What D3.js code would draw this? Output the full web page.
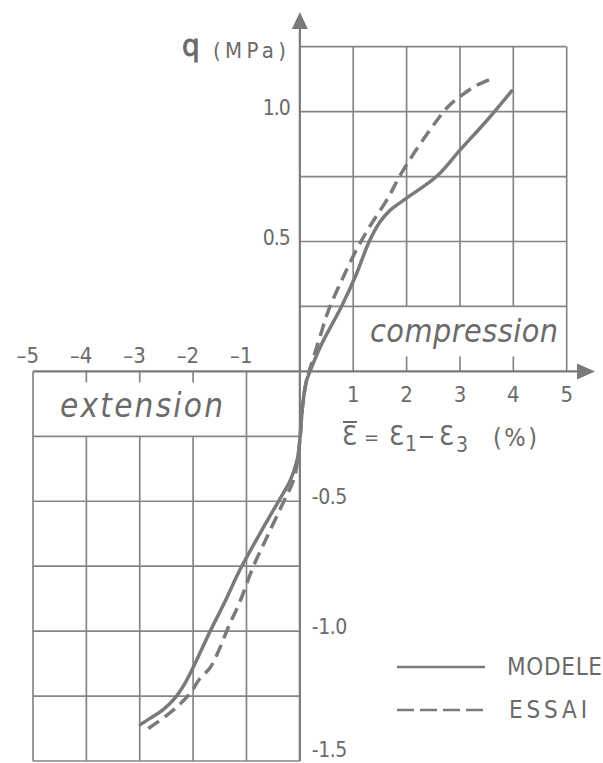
<!DOCTYPE html>
<html>
<head>
	<meta charset="utf-8">
	<script src="https://d3js.org/d3.v7.min.js"></script>
	<style>
		body { margin: 0; background: #fff; }
		svg { display: block; }
		text { font-family: "DejaVu Sans Condensed", "DejaVu Sans", sans-serif; fill: #6a6a6a; }
	</style>
</head>
<body>
<script type="text/javascript">
	"use strict";

	/*
	Values: strain eps (%) and deviator q (MPa)
	*/
	var modeleX = [-2.99, -2.80, -2.55, -2.35, -2.15, -2.00, -1.85, -1.68, -1.40, -1.15, -0.90, -0.68, -0.40, -0.18, -0.05,
		0.01, 0.05, 0.12, 0.19, 0.42, 0.78, 1.05, 1.30, 1.50, 1.69, 2.00, 2.56, 3.00, 3.50, 3.97];
	var modeleQ = [-1.36, -1.335, -1.30, -1.26, -1.20, -1.14, -1.075, -1.00, -0.885, -0.775, -0.68, -0.60, -0.50, -0.42, -0.34,
		-0.24, -0.135, -0.04, 0.00, 0.11, 0.25, 0.37, 0.50, 0.575, 0.62, 0.667, 0.75, 0.852, 0.965, 1.08];

	var essaiX = [-2.84, -2.50, -2.24, -2.02, -1.90, -1.68, -1.52, -1.34, -1.12, -0.87, -0.62, -0.30, -0.12, -0.04,
		0.01, 0.05, 0.12, 0.22, 0.38, 0.54, 0.79, 1.06, 1.31, 1.63, 1.94, 2.44, 2.78, 3.00, 3.30, 3.62];
	var essaiQ = [-1.375, -1.325, -1.28, -1.23, -1.19, -1.14, -1.075, -0.985, -0.885, -0.75, -0.64, -0.50, -0.42, -0.34,
		-0.24, -0.135, -0.04, 0.03, 0.135, 0.237, 0.353, 0.468, 0.558, 0.66, 0.776, 0.93, 1.02, 1.058, 1.10, 1.128];

	var xTicksNeg = [-5, -4, -3, -2, -1];
	var xTicksPos = [1, 2, 3, 4, 5];
	var qTicksPos = [0.5, 1.0];
	var qTicksNeg = [-0.5, -1.0, -1.5];
	var qGridPos = [0.25, 0.5, 0.75, 1.0, 1.25];
	var qGridNeg = [-0.25, -0.5, -0.75, -1.0, -1.25, -1.5];
	var seriesNames = ["MODELE", "ESSAI"];

	var width = 603,
		height = 763,
		ink = "#7a7a7a",
		gridInk = "#858585";

	var svg = d3.select("body")
		.append("svg")
		.attr("width", width)
		.attr("height", height);

	var x = d3.scaleLinear().domain([-5, 5]).range([33, 566.7]);
	var y = d3.scaleLinear().domain([-1.5, 1.25]).range([761, 46.7]);

	var grid = svg.append("g")
		.attr("stroke", gridInk)
		.attr("stroke-width", 1.7)
		.attr("fill", "none");

	//compression quadrant
	grid.selectAll("line.hpos")
		.data(qGridPos)
		.enter()
		.append("line")
			.attr("x1", x(0)).attr("x2", x(5))
			.attr("y1", function (d) { return y(d); })
			.attr("y2", function (d) { return y(d); });
	grid.selectAll("line.vpos")
		.data(xTicksPos)
		.enter()
		.append("line")
			.attr("x1", function (d) { return x(d); })
			.attr("x2", function (d) { return x(d); })
			.attr("y1", y(1.25))
			.attr("y2", function (d) { return (d === 1 || d === 5) ? y(0) : y(0.25); });
	grid.selectAll("line.tpos")
		.data([2, 3, 4])
		.enter()
		.append("line")
			.attr("x1", function (d) { return x(d); })
			.attr("x2", function (d) { return x(d); })
			.attr("y1", y(0))
			.attr("y2", y(0) - 15);

	//extension quadrant
	grid.selectAll("line.hneg")
		.data(qGridNeg)
		.enter()
		.append("line")
			.attr("x1", x(-5)).attr("x2", x(0))
			.attr("y1", function (d) { return y(d); })
			.attr("y2", function (d) { return y(d); });
	grid.selectAll("line.vneg")
		.data(xTicksNeg)
		.enter()
		.append("line")
			.attr("x1", function (d) { return x(d); })
			.attr("x2", function (d) { return x(d); })
			.attr("y1", function (d) { return (d === -5 || d === -1) ? y(0) : y(-0.25); })
			.attr("y2", y(-1.5));
	grid.selectAll("line.tneg")
		.data([-4, -3, -2])
		.enter()
		.append("line")
			.attr("x1", function (d) { return x(d); })
			.attr("x2", function (d) { return x(d); })
			.attr("y1", y(0))
			.attr("y2", y(0) + 11);

	//axes with arrows
	svg.append("line")
		.attr("x1", x(-5)).attr("x2", 585)
		.attr("y1", y(0)).attr("y2", y(0))
		.attr("stroke", ink).attr("stroke-width", 2.2);
	svg.append("line")
		.attr("x1", x(0)).attr("x2", x(0))
		.attr("y1", y(-1.5)).attr("y2", 20)
		.attr("stroke", ink).attr("stroke-width", 2.2);
	svg.append("path")
		.attr("d", "M" + 595 + "," + y(0) + "L" + 577 + "," + (y(0) - 8) + "L" + 577 + "," + (y(0) + 8) + "Z")
		.attr("fill", ink);
	svg.append("path")
		.attr("d", "M" + x(0) + ",12L" + (x(0) - 8) + ",29L" + (x(0) + 8) + ",29Z")
		.attr("fill", ink);

	//tick labels
	var fmt = d3.format(".1f");
	svg.selectAll("text.xneg")
		.data(xTicksNeg)
		.enter()
		.append("text")
			.attr("x", function (d) { return x(d) + 6; })
			.attr("y", y(0) - 8)
			.attr("text-anchor", "end")
			.style("font-size", "22px")
			.text(function (d) { return "\u2013" + Math.abs(d); });
	svg.selectAll("text.xpos")
		.data(xTicksPos)
		.enter()
		.append("text")
			.attr("x", function (d) { return x(d); })
			.attr("y", y(0) + 31)
			.attr("text-anchor", "middle")
			.style("font-size", "22px")
			.text(function (d) { return d; });
	svg.selectAll("text.qpos")
		.data(qTicksPos)
		.enter()
		.append("text")
			.attr("x", x(0) - 10)
			.attr("y", function (d) { return y(d) + 3; })
			.attr("text-anchor", "end")
			.style("font-size", "21px")
			.style("letter-spacing", "-1px")
			.text(function (d) { return fmt(d); });
	svg.selectAll("text.qneg")
		.data(qTicksNeg)
		.enter()
		.append("text")
			.attr("x", x(0) + 12)
			.attr("y", function (d) { return Math.min(y(d) + 3, 757); })
			.style("font-size", "21px")
			.style("letter-spacing", "-0.5px")
			.text(function (d) { return "-" + fmt(Math.abs(d)); });

	//quadrant names
	svg.append("text")
		.attr("x", 370).attr("y", 342)
		.attr("textLength", 188)
		.style("font-size", "32px")
		.style("font-style", "italic")
		.text("compression");
	svg.append("text")
		.attr("x", 60).attr("y", 417)
		.attr("textLength", 163)
		.style("font-size", "33px")
		.style("font-style", "italic")
		.text("extension");

	//axis titles
	svg.append("text")
		.attr("x", 182).attr("y", 56)
		.attr("stroke", "#6a6a6a")
		.attr("stroke-width", 0.8)
		.style("font-size", "31px")
		.text("q");
	svg.append("text")
		.attr("x", 213).attr("y", 58)
		.attr("textLength", 73)
		.style("font-size", "22px")
		.text("(MPa)");

	var xt = svg.append("g").style("font-size", "27px");
	xt.append("text").attr("x", 342).attr("y", 445).text("\u0190");
	xt.append("line")
		.attr("x1", 343).attr("x2", 357).attr("y1", 422).attr("y2", 422)
		.attr("stroke", "#6a6a6a").attr("stroke-width", 2);
	xt.append("text").attr("x", 364).attr("y", 444).style("font-size", "20px").text("=");
	xt.append("text").attr("x", 389).attr("y", 445).text("\u0190");
	xt.append("text").attr("x", 405).attr("y", 451).style("font-size", "21px").text("1");
	xt.append("line")
		.attr("x1", 420).attr("x2", 433).attr("y1", 437).attr("y2", 437)
		.attr("stroke", "#6a6a6a").attr("stroke-width", 2);
	xt.append("text").attr("x", 439).attr("y", 445).text("\u0190");
	xt.append("text").attr("x", 456).attr("y", 452).style("font-size", "21px").text("3");
	xt.append("text").attr("x", 493).attr("y", 446).attr("textLength", 44)
		.style("font-size", "25px").text("(%)");

	//curves
	var line = d3.line()
		.x(function (d) { return x(d[0]); })
		.y(function (d) { return y(d[1]); })
		.curve(d3.curveCatmullRom.alpha(0.5));

	svg.append("path")
		.datum(d3.zip(modeleX, modeleQ))
		.attr("d", line)
		.attr("fill", "none")
		.attr("stroke", ink)
		.attr("stroke-width", 3.5)
		.attr("stroke-linecap", "round");
	svg.append("path")
		.datum(d3.zip(essaiX, essaiQ))
		.attr("d", line)
		.attr("fill", "none")
		.attr("stroke", ink)
		.attr("stroke-width", 3.5)
		.attr("stroke-dasharray", "13,7");

	//legend
	var legend = svg.selectAll("g.legend")
		.data(seriesNames)
		.enter()
		.append("g")
			.attr("transform", function (d, i) { return "translate(0," + (667 + i * 43) + ")"; });
	legend.append("line")
		.attr("x1", 397).attr("x2", 485)
		.attr("stroke", ink)
		.attr("stroke-width", 2.5)
		.attr("stroke-dasharray", function (d, i) { return i ? "17,6" : null; });
	legend.append("text")
		.attr("x", function (d, i) { return i ? 509 : 507; })
		.attr("y", 8)
		.attr("textLength", function (d, i) { return i ? 78 : 95; })
		.style("font-size", "24px")
		.text(function (d) { return d; });
</script>
</body>
</html>
